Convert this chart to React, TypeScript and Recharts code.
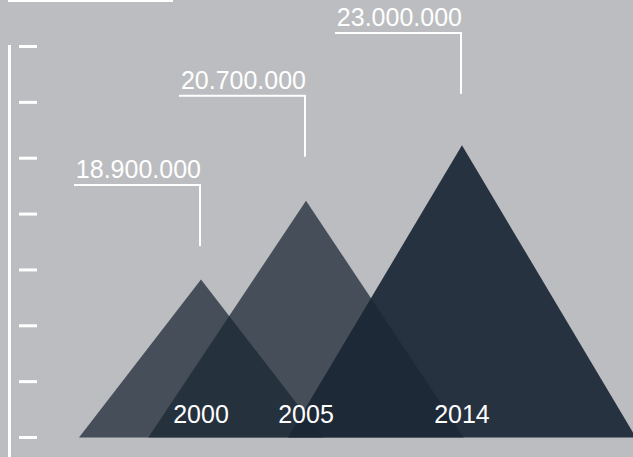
import { ComposedChart, Area, Scatter, XAxis, YAxis } from 'recharts';

// values
const YEARS = ['2000', '2005', '2014'];
const VALUES = [18900000, 20700000, 23000000];
// peak heights on the tick scale (0..7) and horizontal placement (0..100)
const PEAKS = [2.83, 4.24, 5.23];
const CENTERS = [27.15, 44.86, 71.16];
const HALF_WIDTHS = [20.57, 26.6, 29.34];
const Y_TICKS = [0, 1, 2, 3, 4, 5, 6, 7];

const WIDTH = 633;
const HEIGHT = 457;
const PLOT_TOP = 46.5;
const PLOT_BOTTOM = 437.5;
const BG = '#BCBDC0';
const MOUNTAIN = '#1B2735';
const OPACITIES = [0.74, 0.74, 0.93];
const FONT = '"Liberation Sans", Arial, Helvetica, sans-serif';

const formatValue = (v: number) => String(v).replace(/\B(?=(\d{3})+(?!\d))/g, '.');

const triangles = CENTERS.map((c, i) => [
    { x: c - HALF_WIDTHS[i], y: 0 },
    { x: c, y: PEAKS[i] },
    { x: c + HALF_WIDTHS[i], y: 0 },
]);

const peaks = CENTERS.map((c, i) => ({
    x: c,
    y: PEAKS[i],
    year: YEARS[i],
    value: VALUES[i],
}));

function TickMark(props: any) {
    const { y } = props;
    return <rect x={19} y={y - 1.5} width={18} height={3} fill="#fff" />;
}

function PeakLabel(props: any) {
    const { cx, cy, payload } = props;
    if (cx == null || cy == null) return null;
    const lineX = cx - 1;
    const bottom = cy - 12 - 0.135 * (PLOT_BOTTOM - cy);
    const top = bottom - 61;
    return (
        <g>
            <line x1={lineX} y1={bottom} x2={lineX} y2={top} stroke="#fff" strokeWidth={2} />
            <line x1={lineX - 126} y1={top} x2={lineX + 1} y2={top} stroke="#fff" strokeWidth={2} />
            <text
                x={lineX + 1}
                y={top - 7}
                textAnchor="end"
                fill="#fff"
                fontSize={25}
                fontFamily={FONT}
            >
                {formatValue(payload.value)}
            </text>
            <text
                x={cx}
                y={PLOT_BOTTOM - 15}
                textAnchor="middle"
                fill="#fff"
                fontSize={25}
                fontFamily={FONT}
            >
                {payload.year}
            </text>
        </g>
    );
}

export default function App() {
    return (
        <div
            style={{
                position: 'absolute',
                left: 0,
                top: 0,
                width: WIDTH,
                height: HEIGHT,
                background: BG,
                overflow: 'hidden',
            }}
        >
            <div style={{ position: 'absolute', left: 8, top: 0, width: 165, height: 2, background: '#fff' }} />
            <div style={{ position: 'absolute', left: 8, top: 45, width: 3, height: HEIGHT - 45, background: '#fff' }} />
            <ComposedChart
                width={WIDTH}
                height={HEIGHT}
                margin={{ top: PLOT_TOP, right: 0, bottom: HEIGHT - PLOT_BOTTOM, left: 0 }}
            >
                <XAxis type="number" dataKey="x" domain={[0, 100]} allowDataOverflow hide />
                <YAxis
                    type="number"
                    dataKey="y"
                    domain={[0, 7]}
                    ticks={Y_TICKS}
                    width={40}
                    axisLine={false}
                    tickLine={false}
                    tick={<TickMark />}
                />
                {triangles.map((data, i) => (
                    <Area
                        key={YEARS[i]}
                        data={data}
                        dataKey="y"
                        type="linear"
                        stroke="none"
                        fill={MOUNTAIN}
                        fillOpacity={OPACITIES[i]}
                        dot={false}
                        activeDot={false}
                        isAnimationActive={false}
                    />
                ))}
                <Scatter data={peaks} dataKey="y" shape={<PeakLabel />} isAnimationActive={false} />
            </ComposedChart>
        </div>
    );
}
